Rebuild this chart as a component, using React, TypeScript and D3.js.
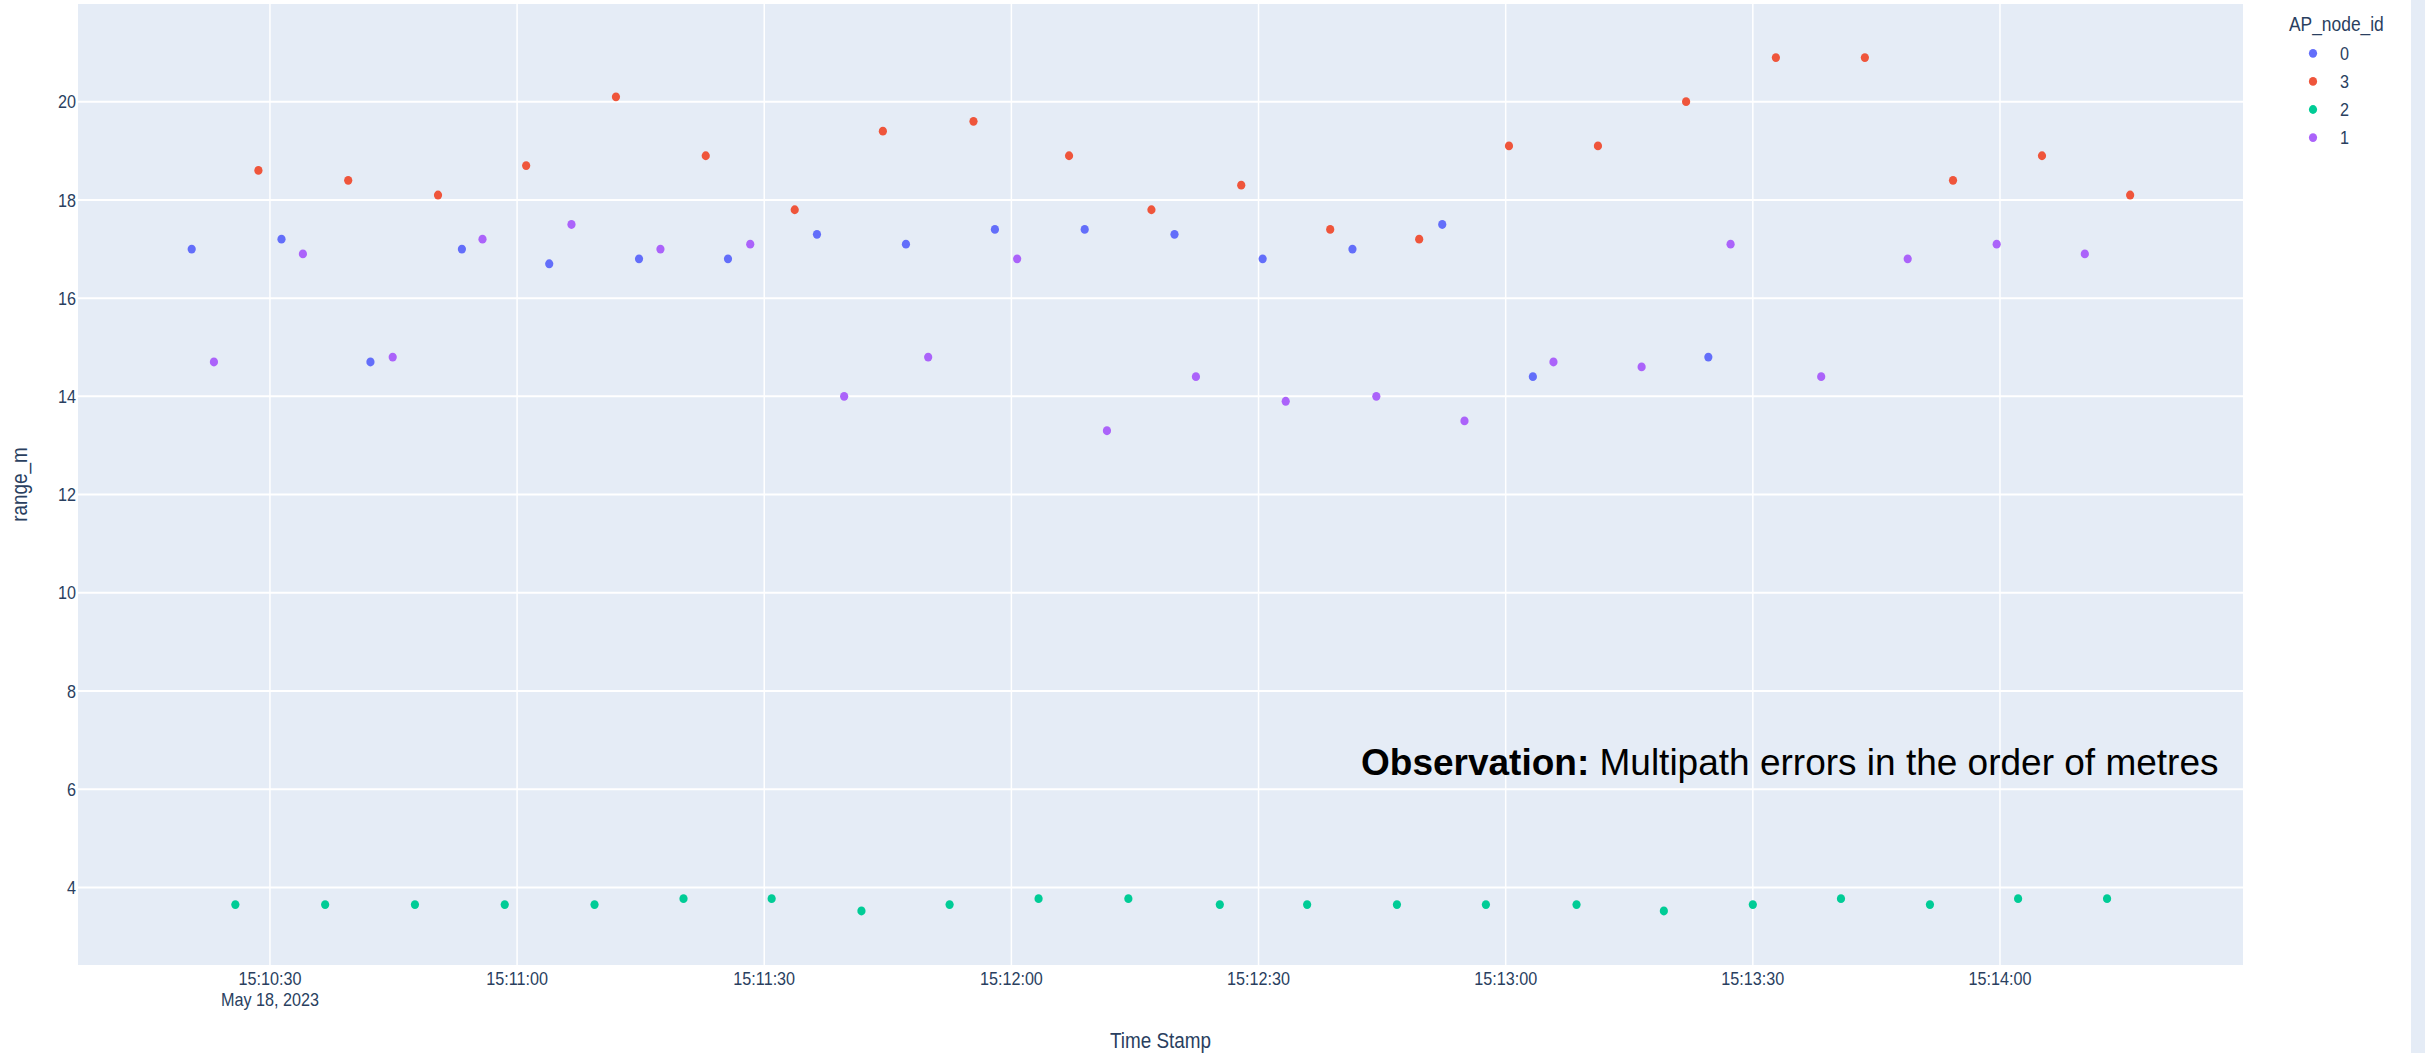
import React from "react";
import * as d3 from "d3";

// ---- data (AP_node_id series) ----
const node0Times = ["15:10:20.5","15:10:31.4","15:10:42.2","15:10:53.3","15:11:03.9","15:11:14.8","15:11:25.6","15:11:36.4","15:11:47.2","15:11:58.0","15:12:08.9","15:12:19.8","15:12:30.5","15:12:41.4","15:12:52.3","15:13:03.3","15:13:24.6"];
const node0Range = [17.0,17.2,14.7,17.0,16.7,16.8,16.8,17.3,17.1,17.4,17.4,17.3,16.8,17.0,17.5,14.4,14.8];

const node3Times = ["15:10:28.6","15:10:39.5","15:10:50.4","15:11:01.1","15:11:12.0","15:11:22.9","15:11:33.7","15:11:44.4","15:11:55.4","15:12:07.0","15:12:17.0","15:12:27.9","15:12:38.7","15:12:49.5","15:13:00.4","15:13:11.2","15:13:21.9","15:13:32.8","15:13:43.6","15:13:54.3","15:14:05.1","15:14:15.8"];
const node3Range = [18.6,18.4,18.1,18.7,20.1,18.9,17.8,19.4,19.6,18.9,17.8,18.3,17.4,17.2,19.1,19.1,20.0,20.9,20.9,18.4,18.9,18.1];

const node2Times = ["15:10:25.8","15:10:36.7","15:10:47.6","15:10:58.5","15:11:09.4","15:11:20.2","15:11:30.9","15:11:41.8","15:11:52.5","15:12:03.3","15:12:14.2","15:12:25.3","15:12:35.9","15:12:46.8","15:12:57.6","15:13:08.6","15:13:19.2","15:13:30.0","15:13:40.7","15:13:51.5","15:14:02.2","15:14:13.0"];
const node2Range = [3.65,3.65,3.65,3.65,3.65,3.77,3.77,3.52,3.65,3.77,3.77,3.65,3.65,3.65,3.65,3.65,3.52,3.65,3.77,3.65,3.77,3.77];

const node1Times = ["15:10:23.2","15:10:34.0","15:10:44.9","15:10:55.8","15:11:06.6","15:11:17.4","15:11:28.3","15:11:39.7","15:11:49.9","15:12:00.7","15:12:11.6","15:12:22.4","15:12:33.3","15:12:44.3","15:12:55.0","15:13:05.8","15:13:16.5","15:13:27.3","15:13:38.3","15:13:48.8","15:13:59.6","15:14:10.3"];
const node1Range = [14.7,16.9,14.8,17.2,17.5,17.0,17.1,14.0,14.8,16.8,13.3,14.4,13.9,14.0,13.5,14.7,14.6,17.1,14.4,16.8,17.1,16.9];

const legendIds = ["0", "3", "2", "1"];
const seriesColors = ["#636efa", "#EF553B", "#00cc96", "#ab63fa"];
const yTickValues = [4, 6, 8, 10, 12, 14, 16, 18, 20];
const xDomainStart = "15:10:06.7";
const xDomainEnd = "15:14:29.5";
const yDomain = [2.42, 21.99];
const dateLabel = "May 18, 2023";
const xTitle = "Time Stamp";
const yTitle = "range_m";
const legendTitle = "AP_node_id";
const noteBold = "Observation:";
const noteText = " Multipath errors in the order of metres";

const toDate = (s: string) => {
  const [h, m, sec] = s.split(":");
  return new Date(2023, 4, 18, +h, +m, 0, Math.round(parseFloat(sec) * 1000));
};

const W = 2425;
const H = 1053;
const P = { left: 78, right: 2243, top: 4, bottom: 965 };
const FONT = "'Liberation Sans', Arial, sans-serif";
const TXT = "#2a3f5f";
const SX = 0.87;

function T(props: any) {
  const { x, y, size, anchor = "start", sx = SX, rotate = 0, fill = TXT, children } = props;
  return (
    <text
      transform={`translate(${x},${y}) rotate(${rotate}) scale(${sx},1)`}
      fontSize={size}
      fontFamily={FONT}
      textAnchor={anchor}
      fill={fill}
    >
      {children}
    </text>
  );
}

export default function App() {
  const x = d3.scaleTime().domain([toDate(xDomainStart), toDate(xDomainEnd)]).range([P.left, P.right]);
  const y = d3.scaleLinear().domain(yDomain).range([P.bottom, P.top]);
  const xTicks = x.ticks(d3.timeSecond.every(30) as any);
  const fmt = d3.timeFormat("%H:%M:%S");

  const series = [
    { times: node0Times, vals: node0Range },
    { times: node3Times, vals: node3Range },
    { times: node2Times, vals: node2Range },
    { times: node1Times, vals: node1Range },
  ];

  return (
    <div style={{ position: "absolute", left: 0, top: 0 }}>
      <svg width={W} height={H} style={{ display: "block", background: "#fff" }}>
        <rect x={P.left} y={P.top} width={P.right - P.left} height={P.bottom - P.top} fill="#e5ecf6" />
        {xTicks.map((t, i) => (
          <line key={"gx" + i} x1={x(t)} x2={x(t)} y1={P.top} y2={P.bottom} stroke="#fff" strokeWidth={1.5} />
        ))}
        {yTickValues.map((v) => (
          <line key={"gy" + v} x1={P.left} x2={P.right} y1={y(v)} y2={y(v)} stroke="#fff" strokeWidth={2} />
        ))}
        {yTickValues.map((v) => (
          <T key={"ty" + v} x={P.left - 2} y={y(v) + 6.6} size={18.6} anchor="end">{String(v)}</T>
        ))}
        {xTicks.map((t, i) => (
          <g key={"tx" + i}>
            <T x={x(t)} y={985} size={18.6} anchor="middle">{fmt(t)}</T>
            {i === 0 && <T x={x(t)} y={1006} size={18.6} anchor="middle">{dateLabel}</T>}
          </g>
        ))}
        <T x={(P.left + P.right) / 2} y={1048} size={21.7} anchor="middle">{xTitle}</T>
        <T x={27} y={(P.top + P.bottom) / 2} size={21.7} anchor="middle" rotate={-90}>{yTitle}</T>

        {series.map((s, si) => (
          <g key={"s" + si}>
            {s.times.map((tm, i) => (
              <ellipse key={i} cx={x(toDate(tm))} cy={y(s.vals[i])} rx={4.1} ry={4.4} fill={seriesColors[si]} />
            ))}
          </g>
        ))}

        <text x={1361} y={775} fontSize={37} fontFamily={FONT} fill="#000">
          <tspan fontWeight="bold">{noteBold}</tspan>
          <tspan>{noteText}</tspan>
        </text>

        <T x={2289} y={31} size={20} anchor="start">{legendTitle}</T>
        {legendIds.map((id, i) => (
          <g key={"lg" + id}>
            <ellipse cx={2313} cy={53.3 + i * 28.1} rx={4.1} ry={4.4} fill={seriesColors[i]} />
            <T x={2340} y={53.3 + i * 28.1 + 6.6} size={18.6} anchor="start">{id}</T>
          </g>
        ))}
        <rect x={2411} y={0} width={W - 2411} height={H} fill="#e5ecf6" />
      </svg>
    </div>
  );
}
